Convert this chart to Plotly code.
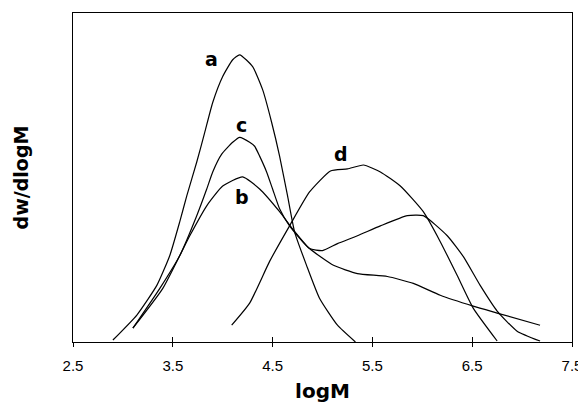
import plotly.graph_objects as go

# Curve a
a_x = [2.90, 3.14, 3.34, 3.47, 3.57, 3.64, 3.74, 3.82, 3.90, 4.00, 4.10, 4.17, 4.30, 4.40, 4.49, 4.57, 4.65, 4.72, 4.84, 4.97, 5.15, 5.33]
a_y = [0.6, 8.2, 17.2, 26.3, 36.6, 44.4, 54.7, 63.7, 72.8, 80.7, 85.8, 87.3, 83.7, 76.7, 66.8, 56.5, 44.4, 33.5, 23.3, 13.3, 5.1, 0.0]

# Curve b
b_x = [3.10, 3.40, 3.67, 3.84, 4.00, 4.20, 4.37, 4.57, 4.70, 4.87, 5.11, 5.35, 5.65, 5.91, 6.18, 6.51, 6.75, 7.18]
b_y = [4.2, 16.3, 32.3, 41.4, 47.4, 50.2, 46.5, 39.6, 34.4, 28.4, 23.3, 20.8, 19.9, 17.8, 14.2, 10.9, 8.8, 5.1]

# Curve c
c_x = [3.10, 3.37, 3.57, 3.74, 3.84, 3.90, 3.99, 4.10, 4.17, 4.27, 4.32, 4.37, 4.44, 4.50, 4.57, 4.67, 4.87, 5.00, 5.15, 5.35, 5.58, 5.85, 6.01, 6.25, 6.41, 6.58, 6.75, 6.95, 7.18]
c_y = [4.2, 16.3, 26.3, 38.4, 46.5, 51.7, 57.1, 60.7, 62.2, 60.7, 59.5, 56.5, 51.7, 46.5, 40.5, 35.3, 28.4, 27.8, 29.9, 32.3, 35.3, 38.4, 38.4, 32.3, 26.0, 17.2, 9.4, 3.3, 0.3]

# Curve d
d_x = [4.09, 4.27, 4.47, 4.67, 4.87, 5.08, 5.25, 5.41, 5.58, 5.78, 6.01, 6.18, 6.35, 6.51, 6.75]
d_y = [5.1, 11.8, 24.5, 35.3, 45.6, 52.0, 52.6, 53.8, 51.7, 47.4, 39.6, 30.5, 20.2, 10.3, 0.3]

labels = ["a", "b", "c", "d"]
label_x = [3.89, 4.19, 4.19, 5.19]
label_y = [86.0, 44.0, 66.0, 57.0]

x_ticks = [2.5, 3.5, 4.5, 5.5, 6.5, 7.5]

BOLD = "DejaVu Sans"

fig = go.Figure()
for xs, ys in [(a_x, a_y), (b_x, b_y), (c_x, c_y), (d_x, d_y)]:
    fig.add_trace(go.Scatter(x=xs, y=ys, mode="lines",
                             line=dict(color="black", width=1.2, shape="spline", smoothing=0.5),
                             showlegend=False, hoverinfo="skip"))

for t, lx, ly in zip(labels, label_x, label_y):
    fig.add_annotation(x=lx, y=ly, text="<b>" + t + "</b>", showarrow=False,
                       font=dict(family=BOLD, size=19, color="black"))

fig.update_layout(
    width=586, height=413,
    margin=dict(l=65, r=22, t=5, b=79),
    paper_bgcolor="white", plot_bgcolor="white",
    font=dict(family="Liberation Sans, Arial", color="black"),
    xaxis=dict(range=[2.5, 7.5], tickvals=x_ticks, ticktext=[f"{v:.1f}" for v in x_ticks],
               showgrid=False, zeroline=False, showline=True, linecolor="black", linewidth=1,
               mirror=True, ticks="outside", ticklen=4, tickcolor="black", automargin=False,
               ticklabelstandoff=6,
               tickfont=dict(size=15, family="Liberation Sans, Arial"),
               title=dict(text="<b>logM</b>", font=dict(size=20, family=BOLD), standoff=10)),
    xaxis2=dict(range=[2.5, 7.5], tickvals=x_ticks, overlaying="x", side="bottom",
                showticklabels=False, showgrid=False, zeroline=False, showline=False,
                ticks="inside", ticklen=5, tickcolor="black", automargin=False),
    yaxis=dict(range=[0, 100], showticklabels=False, showgrid=False, zeroline=False,
               showline=True, linecolor="black", linewidth=1, mirror=True, ticks="", automargin=False,
               title=dict(text="<b>dw/dlogM</b>", font=dict(size=19, family=BOLD), standoff=38)),
)
# invisible trace so the inside-tick overlay axis is drawn
fig.add_trace(go.Scatter(x=[2.5], y=[0], xaxis="x2", mode="markers", marker=dict(opacity=0),
                         showlegend=False, hoverinfo="skip"))

fig.write_html("out.html")
